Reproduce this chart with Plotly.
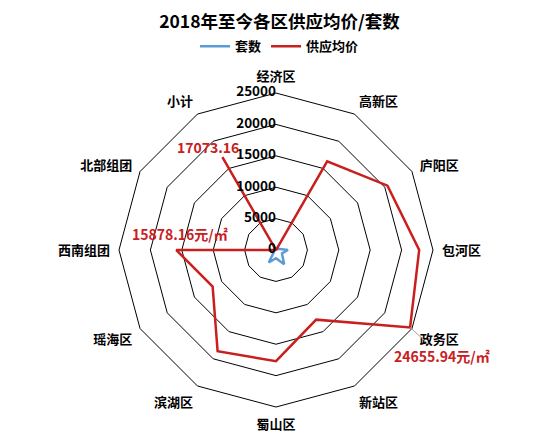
import math
import plotly.graph_objects as go

categories = ["经济区", "高新区", "庐阳区", "包河区", "政务区", "新站区",
              "蜀山区", "滨湖区", "瑶海区", "西南组团", "北部组团", "小计"]
price = [0, 16300, 20500, 22800, 24655.94, 12800, 17700, 18600, 11650, 15878.16, 0, 17073.16]
units = [100, 200, 400, 1900, 1100, 2600, 1300, 2300, 300, 200, 100, 200]
radial_ticks = [0, 5000, 10000, 15000, 20000, 25000]
radial_max = 25000

label_idx = [11, 9, 4]
label_text = ["17073.16", "15878.16元/㎡", "24655.94元/㎡"]
label_shift = [(-14, -10), (4, -16), (32, 29)]
label_leader = [True, False, True]

FONT = "Noto Sans CJK SC"
RED = "#C8201E"
BLUE = "#5B9BD5"
W, H = 543, 434
DOM_X = [0.2044, 0.7827]
DOM_Y = [0.0806, 0.8041]

fig = go.Figure()
fig.add_trace(go.Scatterpolar(
    r=units + [units[0]], theta=categories + [categories[0]], mode="lines",
    name="套数", line=dict(color=BLUE, width=2.5), hoverinfo="skip"))
fig.add_trace(go.Scatterpolar(
    r=price + [price[0]], theta=categories + [categories[0]], mode="lines",
    name="供应均价", line=dict(color=RED, width=2.5), hoverinfo="skip"))
# radial tick labels, right-aligned to the left of the vertical axis
fig.add_trace(go.Scatterpolar(
    r=[max(v, 1) for v in radial_ticks], theta=[categories[0]] * len(radial_ticks),
    mode="text", text=[str(v) for v in radial_ticks], textposition="middle left",
    textfont=dict(size=13.5, family=FONT, weight="bold", color="black"),
    showlegend=False, hoverinfo="skip", cliponaxis=False))

# data labels placed in paper coordinates derived from the polar geometry
cx = sum(DOM_X) / 2
cy = sum(DOM_Y) / 2
rad_px = (DOM_X[1] - DOM_X[0]) * W / 2
n = len(categories)
annotations = []
for i, t, (dx, dy), lead in zip(label_idx, label_text, label_shift, label_leader):
    ang = 2 * math.pi * i / n
    rp = price[i] / radial_max * rad_px
    px = cx + rp * math.sin(ang) / W
    py = cy + rp * math.cos(ang) / H
    a = dict(x=px, y=py, xref="paper", yref="paper", text="<b>%s</b>" % t,
             font=dict(color=RED, size=14, family=FONT))
    if lead:
        a.update(showarrow=True, ax=dx, ay=dy, arrowhead=0, arrowwidth=1,
                 arrowcolor="#A0A0A0", standoff=0)
    else:
        a.update(showarrow=False, xanchor="center", yanchor="middle",
                 xshift=dx, yshift=-dy)
    annotations.append(a)

fig.update_layout(
    width=W, height=H,
    margin=dict(l=0, r=0, t=0, b=0),
    paper_bgcolor="white", plot_bgcolor="white",
    font=dict(family=FONT, color="black"),
    title=dict(text="<b>2018年至今各区供应均价/套数</b>", x=0.5, xanchor="center",
               y=0.968, yanchor="middle", font=dict(size=17.5, color="black", family=FONT)),
    legend=dict(orientation="h", x=0.5, xanchor="center", y=0.912, yanchor="middle",
                font=dict(size=13, family=FONT, weight="bold"), itemwidth=30),
    annotations=annotations,
    polar=dict(
        domain=dict(x=DOM_X, y=DOM_Y),
        gridshape="linear",
        bgcolor="white",
        radialaxis=dict(range=[0, radial_max], tickvals=radial_ticks,
                        angle=90, showline=False, showgrid=True, gridcolor="black",
                        gridwidth=1, ticks="", showticklabels=False),
        angularaxis=dict(direction="clockwise", rotation=90, showgrid=False,
                         showline=True, linecolor="black", linewidth=1,
                         ticks="outside", ticklen=6, tickcolor="rgba(0,0,0,0)",
                         tickfont=dict(size=13, family=FONT, weight="bold", color="black")),
    ),
)

fig.write_html("out.html")
